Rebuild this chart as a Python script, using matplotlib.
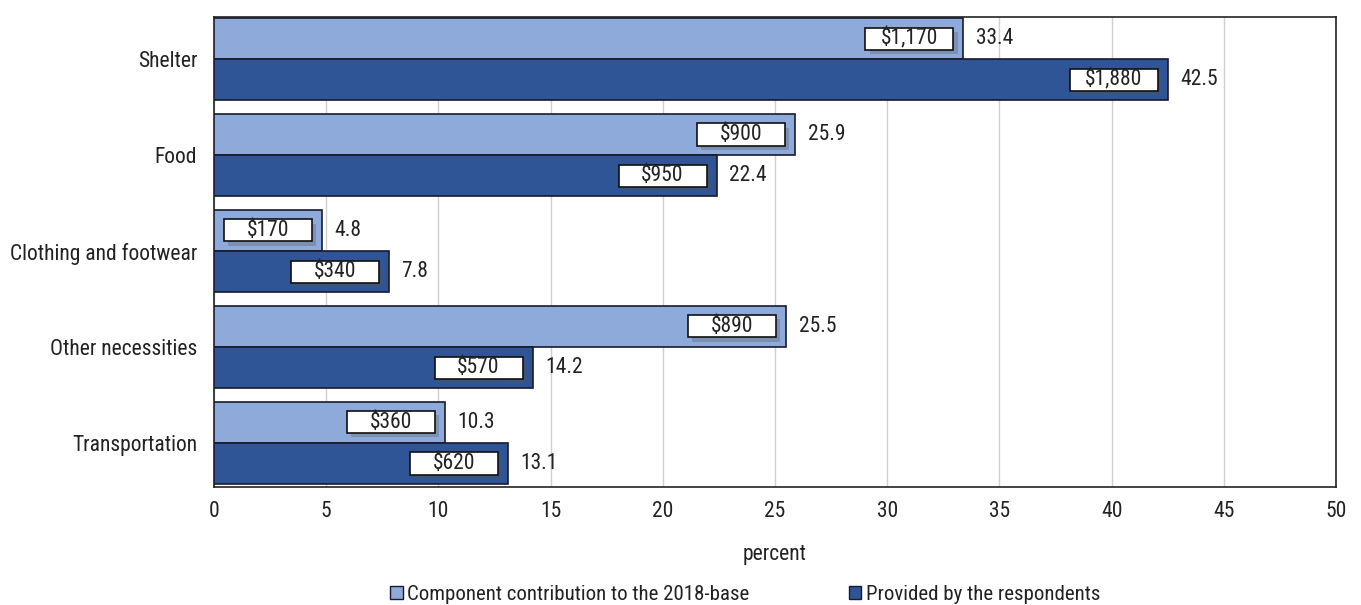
import matplotlib
matplotlib.use("Agg")
import matplotlib.pyplot as plt
from matplotlib.patches import Rectangle, Patch
import matplotlib.patheffects as pe
from matplotlib import font_manager
import numpy as np

names = {f.name for f in font_manager.fontManager.ttflist}
fam = [f for f in ['Liberation Sans Narrow', 'Roboto Condensed', 'DejaVu Sans'] if f in names]
plt.rcParams['font.family'] = fam

categories = ['Shelter', 'Food', 'Clothing and footwear', 'Other necessities', 'Transportation']
component_pct = [33.4, 25.9, 4.8, 25.5, 10.3]
respondent_pct = [42.5, 22.4, 7.8, 14.2, 13.1]
component_dollars = ['$1,170', '$900', '$170', '$890', '$360']
respondent_dollars = ['$1,880', '$950', '$340', '$570', '$620']
series_names = ['Component contribution to the 2018-base', 'Provided by the respondents']

light = '#8eaadb'
dark = '#2f5597'
edge = '#1a1a2e'
fs = 15.5

fig = plt.figure(figsize=(13.61, 6.05), dpi=100)
ax = fig.add_axes([214/1361, 1-487/605, (1336-214)/1361, (487-17)/605])

y = np.arange(len(categories))
h = 0.43
ax.barh(y - h/2, component_pct, height=h, color=light, edgecolor=edge, linewidth=1.2, zorder=3)
ax.barh(y + h/2, respondent_pct, height=h, color=dark, edgecolor=edge, linewidth=1.2, zorder=3)

ax.set_xlim(0, 50)
ax.set_ylim(4.46, -0.44)
ax.set_xticks(np.arange(0, 51, 5))
ax.set_yticks(y)
ax.set_yticklabels(categories)
ax.tick_params(axis='both', labelsize=fs, length=0, colors='#222222')
ax.tick_params(axis='y', pad=12)
ax.tick_params(axis='x', pad=10)
ax.grid(axis='x', color='#d0d0d0', linewidth=1, zorder=0)
for s in ax.spines.values():
    s.set_color('#222222')
    s.set_linewidth(1.2)

ax.set_xlabel('percent', fontsize=fs, labelpad=16, color='#222222')

# dollar boxes inside bar ends, percent values just past them
box_w = 3.92
box_h = 0.23
gap = 0.45
shadow = [pe.SimplePatchShadow(offset=(3, -3), shadow_rgbFace='#555555', alpha=0.3), pe.Normal()]
for vals, labels, off in [(component_pct, component_dollars, -h/2), (respondent_pct, respondent_dollars, h/2)]:
    for i, (v, lab) in enumerate(zip(vals, labels)):
        yc = y[i] + off
        x0 = v - gap - box_w
        r = Rectangle((x0, yc - box_h/2), box_w, box_h, facecolor='white', edgecolor='#111111',
                      linewidth=1.2, zorder=4)
        r.set_path_effects(shadow)
        ax.add_patch(r)
        ax.text(x0 + box_w/2, yc, lab, ha='center', va='center', fontsize=fs, color='#222222', zorder=5)
        ax.text(v + 0.55, yc, f'{v:.1f}', ha='left', va='center', fontsize=fs, color='#222222', zorder=5)

handles = [Patch(facecolor=light, edgecolor=edge, linewidth=1.0),
           Patch(facecolor=dark, edgecolor=edge, linewidth=1.0)]
fig.legend(handles, series_names, loc='center', bbox_to_anchor=(745/1361, 1-594/605), ncol=2,
           frameon=False, fontsize=15, handlelength=0.6, handleheight=0.6, handletextpad=0.2,
           columnspacing=4.8, labelcolor='#222222')

fig.savefig('out.png', dpi=100)
